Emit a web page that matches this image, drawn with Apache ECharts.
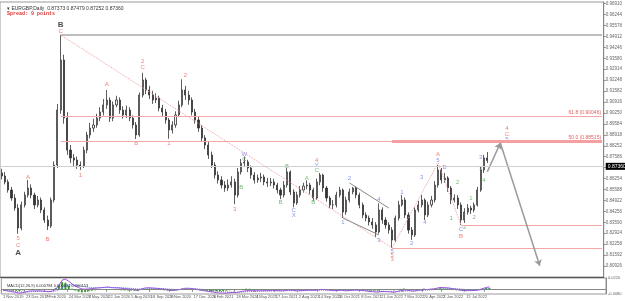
<!DOCTYPE html>
<html><head><meta charset="utf-8">
<script src="https://cdn.jsdelivr.net/npm/echarts@6/dist/echarts.min.js"></script>
<style>html,body{margin:0;padding:0;background:#fff}#c{width:625px;height:301px}</style>
</head><body><div id="c"></div>
<script>
// Weekly OHLC (Nov 2019 - Sep 2022)
const opens = [
.8660,.8641,.8605,.8556,.8507,.8446,.8324,.8465,.8525,.8568,
.8525,.8465,.8495,.8434,.8373,.8337,.8495,.8708,.9043,.9348,
.8994,.8799,.8751,.8739,.8708,.8702,.8799,.8891,.8933,.8952,
.8994,.9031,.9074,.9104,.8994,.9074,.9104,.9043,.9013,.9043,
.8994,.8952,.8891,.9134,.9226,.9165,.9134,.9104,.9116,.9055,
.9031,.8982,.8921,.8952,.9013,.9074,.9165,.9134,.9104,.9031,
.8982,.8933,.8873,.8830,.8769,.8708,.8647,.8617,.8586,.8568,
.8586,.8605,.8525,.8666,.8720,.8726,.8690,.8647,.8617,.8629,
.8635,.8605,.8599,.8605,.8586,.8556,.8525,.8586,.8666,.8544,
.8477,.8525,.8556,.8580,.8586,.8556,.8507,.8605,.8647,.8568,
.8507,.8465,.8465,.8525,.8556,.8422,.8495,.8544,.8568,.8525,
.8465,.8404,.8385,.8361,.8343,.8300,.8434,.8373,.8343,.8312,
.8251,.8385,.8465,.8495,.8404,.8312,.8282,.8434,.8465,.8495,
.8404,.8465,.8495,.8586,.8678,.8617,.8629,.8568,.8495,.8507,
.8465,.8373,.8422,.8446,.8434,.8465,.8556,.8678,.8751];
const closes = [
.8641,.8605,.8556,.8507,.8446,.8324,.8465,.8525,.8568,.8525,
.8465,.8495,.8434,.8373,.8337,.8495,.8708,.9043,.9348,.8994,
.8799,.8751,.8739,.8708,.8702,.8799,.8891,.8933,.8952,.8994,
.9031,.9074,.9104,.8994,.9074,.9104,.9043,.9013,.9043,.8994,
.8952,.8891,.9134,.9226,.9165,.9134,.9104,.9116,.9055,.9031,
.8982,.8921,.8952,.9013,.9074,.9165,.9134,.9104,.9031,.8982,
.8933,.8873,.8830,.8769,.8708,.8647,.8617,.8586,.8568,.8586,
.8605,.8525,.8666,.8720,.8726,.8690,.8647,.8617,.8629,.8635,
.8605,.8599,.8605,.8586,.8556,.8525,.8586,.8666,.8544,.8477,
.8525,.8556,.8580,.8586,.8556,.8507,.8605,.8647,.8568,.8507,
.8465,.8465,.8525,.8556,.8422,.8495,.8544,.8568,.8525,.8465,
.8404,.8385,.8361,.8343,.8300,.8434,.8373,.8343,.8312,.8251,
.8385,.8465,.8495,.8404,.8312,.8282,.8434,.8465,.8495,.8404,
.8465,.8495,.8586,.8678,.8617,.8629,.8568,.8495,.8507,.8465,
.8373,.8422,.8446,.8434,.8465,.8556,.8678,.8751,.8736];
const highs = [
.8685,.8665,.8620,.8575,.8530,.8470,.8485,.8545,.8617,.8590,
.8540,.8520,.8510,.8450,.8400,.8510,.8730,.9080,.9500,.9380,
.9030,.8830,.8775,.8760,.8730,.8820,.8910,.8965,.8990,.9020,
.9060,.9110,.9165,.9120,.9095,.9130,.9120,.9065,.9070,.9060,
.9010,.8970,.9150,.9270,.9240,.9190,.9160,.9145,.9130,.9075,
.9050,.8995,.8975,.9035,.9100,.9230,.9190,.9160,.9120,.9050,
.9000,.8950,.8890,.8850,.8790,.8725,.8670,.8640,.8610,.8620,
.8640,.8625,.8690,.8745,.8760,.8740,.8705,.8665,.8650,.8660,
.8650,.8630,.8630,.8625,.8600,.8570,.8610,.8690,.8675,.8560,
.8545,.8580,.8600,.8615,.8600,.8570,.8625,.8660,.8655,.8580,
.8520,.8495,.8545,.8575,.8565,.8515,.8565,.8574,.8580,.8540,
.8480,.8420,.8400,.8385,.8360,.8475,.8450,.8390,.8360,.8330,
.8400,.8490,.8525,.8510,.8420,.8330,.8450,.8490,.8526,.8505,
.8485,.8520,.8610,.8708,.8690,.8660,.8640,.8580,.8530,.8525,
.8480,.8445,.8470,.8460,.8480,.8575,.8700,.8770,.8787];
const lows = [
.8620,.8590,.8540,.8490,.8430,.8290,.8310,.8450,.8510,.8505,
.8440,.8450,.8415,.8355,.8312,.8325,.8480,.8690,.9020,.8960,
.8770,.8720,.8700,.8685,.8678,.8690,.8780,.8870,.8910,.8935,
.8975,.9010,.9050,.8970,.8975,.9060,.9020,.8990,.8995,.8975,
.8930,.8866,.8880,.9120,.9140,.9110,.9080,.9085,.9035,.9005,
.8960,.8868,.8900,.8935,.9000,.9060,.9105,.9075,.9010,.8960,
.8910,.8850,.8805,.8745,.8690,.8625,.8595,.8565,.8545,.8550,
.8570,.8470,.8510,.8650,.8695,.8665,.8625,.8595,.8600,.8605,
.8585,.8575,.8580,.8565,.8535,.8500,.8510,.8570,.8525,.8450,
.8465,.8510,.8540,.8560,.8530,.8490,.8495,.8585,.8545,.8485,
.8445,.8440,.8450,.8510,.8385,.8405,.8480,.8530,.8505,.8445,
.8385,.8365,.8340,.8320,.8270,.8290,.8350,.8320,.8290,.8203,
.8240,.8370,.8455,.8385,.8290,.8252,.8270,.8420,.8450,.8373,
.8390,.8450,.8480,.8570,.8595,.8600,.8545,.8470,.8480,.8440,
.8343,.8355,.8405,.8410,.8420,.8455,.8545,.8660,.8720];
const futureBars = 35;

const xTickLabels = ["1 Nov 2019","23 Dec 2019","7 Feb 2020","24 Mar 2020","7 May 2020","22 Jun 2020","5 Aug 2020","18 Sep 2020","3 Nov 2020","17 Dec 2020","3 Feb 2021","18 Mar 2021","4 May 2021","17 Jun 2021","2 Aug 2021","14 Sep 2021","26 Oct 2021","8 Dec 2021","21 Jan 2022","7 Mar 2022","20 Apr 2022","2 Jun 2022","15 Jul 2022","8 Sep 2022"];

const macdMain = [
-0.0010,-0.0020,-0.0030,-0.0040,-0.0050,-0.0065,
-0.0055,-0.0040,-0.0025,-0.0020,-0.0022,-0.0020,-0.0025,-0.0032,-0.0038,
-0.0025,0.0005,0.0080,0.0180,0.0200,0.0160,0.0110,0.0070,0.0040,0.0015,
0.0010,0.0015,0.0022,0.0028,0.0034,0.0040,0.0046,0.0052,
0.0040,0.0035,0.0034,0.0028,0.0020,0.0016,0.0010,0.0000,-0.0010,
0.0010,0.0030,0.0038,
0.0035,0.0030,0.0026,0.0018,0.0010,0.0000,-0.0012,
-0.0012,-0.0005,0.0008,0.0025,
0.0028,0.0026,0.0018,0.0008,-0.0004,-0.0016,-0.0026,-0.0036,-0.0046,-0.0056,-0.0062,-0.0064,-0.0062,-0.0056,-0.0050,
-0.0054,-0.0040,-0.0028,-0.0018,
-0.0016,-0.0018,-0.0020,-0.0020,-0.0018,-0.0018,-0.0018,-0.0016,-0.0016,-0.0018,-0.0022,-0.0016,
-0.0004,-0.0010,-0.0020,-0.0020,-0.0016,-0.0012,-0.0008,-0.0008,-0.0012,
-0.0002,0.0006,0.0002,-0.0006,-0.0014,-0.0018,-0.0014,-0.0008,-0.0020,
-0.0018,-0.0012,-0.0006,-0.0006,-0.0012,-0.0020,-0.0028,-0.0034,-0.0040,-0.0046,-0.0034,-0.0034,-0.0036,-0.0040,-0.0048,
-0.0032,-0.0016,-0.0004,-0.0008,-0.0018,-0.0026,-0.0012,-0.0002,0.0008,0.0004,0.0010,0.0016,0.0028,0.0042,
0.0040,0.0038,0.0030,0.0016,0.0008,-0.0002,-0.0016,-0.0018,-0.0016,-0.0016,-0.0012,0.0002,0.0022,0.0042,0.0054];
const macdSignal = [
-0.0005,-0.0010,-0.0016,-0.0022,-0.0030,-0.0040,
-0.0045,-0.0044,-0.0040,-0.0036,-0.0033,-0.0030,-0.0029,-0.0030,-0.0032,
-0.0031,-0.0024,-0.0003,0.0034,0.0067,0.0086,0.0091,0.0087,0.0078,0.0065,
0.0054,0.0046,0.0041,0.0038,0.0037,0.0038,0.0040,0.0042,
0.0042,0.0041,0.0040,0.0038,0.0034,0.0030,0.0026,0.0021,0.0015,
0.0014,0.0017,0.0021,
0.0024,0.0025,0.0025,0.0024,0.0021,0.0017,0.0011,
0.0006,0.0004,0.0005,0.0009,
0.0013,0.0016,0.0016,0.0015,0.0011,0.0006,0.0000,-0.0007,-0.0015,-0.0023,-0.0031,-0.0038,-0.0043,-0.0046,-0.0047,
-0.0048,-0.0047,-0.0043,-0.0038,
-0.0034,-0.0031,-0.0029,-0.0027,-0.0025,-0.0024,-0.0023,-0.0021,-0.0020,-0.0019,-0.0020,-0.0019,
-0.0016,-0.0015,-0.0016,-0.0017,-0.0017,-0.0016,-0.0014,-0.0013,-0.0013,
-0.0011,-0.0008,-0.0006,-0.0006,-0.0008,-0.0010,-0.0011,-0.0010,-0.0012,
-0.0013,-0.0013,-0.0012,-0.0011,-0.0011,-0.0013,-0.0016,-0.0019,-0.0023,-0.0028,-0.0029,-0.0030,-0.0031,-0.0033,-0.0036,
-0.0035,-0.0031,-0.0026,-0.0022,-0.0021,-0.0022,-0.0020,-0.0016,-0.0011,-0.0008,-0.0004,0.0000,0.0006,0.0013,
0.0018,0.0022,0.0024,0.0022,0.0019,0.0015,0.0009,0.0004,0.0000,-0.0003,-0.0005,-0.0004,0.0001,0.0009,0.0018];
const macdHist = [
-0.0005,-0.0010,-0.0014,-0.0018,-0.0020,-0.0025,
-0.0010,0.0004,0.0015,0.0016,0.0011,0.0010,0.0004,-0.0002,-0.0006,
0.0006,0.0029,0.0083,0.0146,0.0133,0.0074,0.0019,-0.0017,-0.0038,-0.0050,
-0.0044,-0.0031,-0.0019,-0.0010,-0.0003,0.0002,0.0006,0.0010,
-0.0002,-0.0006,-0.0006,-0.0010,-0.0014,-0.0014,-0.0016,-0.0021,-0.0025,
-0.0004,0.0013,0.0017,
0.0011,0.0005,0.0001,-0.0006,-0.0011,-0.0017,-0.0023,
-0.0018,-0.0009,0.0003,0.0016,
0.0015,0.0010,0.0002,-0.0007,-0.0015,-0.0022,-0.0026,-0.0029,-0.0031,-0.0033,-0.0031,-0.0026,-0.0019,-0.0010,-0.0003,
-0.0006,0.0007,0.0015,0.0020,
0.0018,0.0013,0.0009,0.0007,0.0007,0.0006,0.0005,0.0005,0.0004,0.0001,-0.0002,0.0003,
0.0012,0.0005,-0.0004,-0.0003,0.0001,0.0004,0.0006,0.0005,0.0001,
0.0009,0.0014,0.0008,0.0000,-0.0006,-0.0008,-0.0003,0.0002,-0.0008,
-0.0005,0.0001,0.0006,0.0005,-0.0001,-0.0007,-0.0012,-0.0015,-0.0017,-0.0018,-0.0005,-0.0004,-0.0005,-0.0007,-0.0012,
0.0003,0.0015,0.0022,0.0014,0.0003,-0.0004,0.0008,0.0014,0.0019,0.0012,0.0014,0.0016,0.0022,0.0029,
0.0022,0.0016,0.0006,-0.0006,-0.0011,-0.0017,-0.0025,-0.0022,-0.0016,-0.0013,-0.0007,0.0006,0.0021,0.0033,0.0036];

// Wave labels: [bar, price, text, colour key]
const waveLabels = [
[5,.8263,'5','r'],[5,.8221,'C','r'],[5,.8172,'A','k'],
[8,.8632,'A','r'],[14,.8257,'B','r'],
[18,.9561,'B','k'],[18,.9522,'C','r'],
[24,.8647,'1','r'],[32,.9201,'A','r'],[41,.8842,'B','r'],
[43,.9341,'2','r'],[43,.9305,'C','r'],[51,.8842,'1','r'],[56,.9256,'2','r'],
[71,.8440,'3','r'],
[74,.8775,'W','b'],[74,.8745,'C','g'],[73,.8574,'B','g'],
[85,.8483,'B','g'],[87,.8702,'B','g'],[89,.8434,'C','b'],[89,.8404,'X','b'],
[93,.8629,'A','g'],[95,.8483,'B','g'],
[96,.8739,'4','r'],[96,.8708,'Y','b'],[96,.8678,'C','g'],
[104,.8361,'1','b'],[106,.8629,'2','b'],[115,.8251,'3','b'],[115,.8501,'4','b'],
[119,.8184,'5','b'],[119,.8160,'5','r'],[119,.8136,'3','r'],
[122,.8541,'1','b'],[125,.8233,'2','b'],[128,.8635,'3','b'],[129,.8361,'4','b'],
[133,.8775,'A','r'],[133,.8739,'5','b'],[135,.8696,'B','b'],
[140,.8318,'C','b'],[140,.8276,'B','r'],
[137,.8385,'1','g'],[139,.8605,'2','g'],[141,.8331,'3','g'],[143,.8507,'1','g'],
[144,.8391,'2','g'],[146,.8690,'3','g'],[147,.8617,'4','g'],[146,.8757,'3','b'],
[154,.8934,'4','r'],[154,.8897,'C','r'],[154,.8866,'5','b']];

const bHigh = 0.9500, lowThree = 0.8203, fib618 = 0.90046, fib50 = 0.88515, lowB = 0.8343, lastPrice = 0.8736;

const colorMap = {r:'#e8605a', b:'#6a78e8', g:'#58a858', k:'#222'};
const N = closes.length, total = N + futureBars, last = total - 1;
const cats = Array.from({length: total}, (_, i) => String(i));
const candles = closes.map((c, i) => [opens[i], c, lows[i], highs[i]]);
const labelAt = {};
xTickLabels.forEach((t, k) => { labelAt[Math.round(0.43 + k * 21 / 3.2935)] = t; });

const red = '#f2a6a6';
function hline(x0, y, style, label) {
  const a = {coord: [x0, y], symbol: 'none'}, b = {coord: [last, y], symbol: 'none'};
  a.lineStyle = style;
  if (label) a.label = label;
  return [a, b];
}
function seg(x0, y0, x1, y1, style, arrow) {
  const a = {coord: [x0, y0], symbol: 'none', lineStyle: style};
  const b = {coord: [x1, y1], symbol: arrow ? 'arrow' : 'none'};
  return [a, b];
}
const fibLabel = t => ({show: true, position: 'insideEndTop', formatter: t, color: '#e06060', fontSize: 5, distance: 1, fontFamily: 'Liberation Sans'});

const markLines = [
  hline(18, bHigh, {color: '#a8a8a8', width: 1.5, type: 'solid'}),
  hline(18, fib618, {color: red, width: 1, type: 'solid'}, fibLabel('61.8 (0.90046)')),
  hline(18, fib50, {color: red, width: 1, type: 'solid'}),
  hline(119, fib50, {color: '#f4a0a0', width: 3, type: 'solid'}, fibLabel('50.0 (0.88515)')),
  hline(140, lowB, {color: red, width: 1, type: 'solid'}),
  hline(119, lowThree, {color: red, width: 1, type: 'solid'}),
  seg(18, bHigh, 119, lowThree, {color: '#f0a0a0', width: 1, type: 'dotted'}),
  seg(119, lowThree, 133, .8720, {color: '#f0a0a0', width: 1, type: 'dotted'}),
  seg(133, .8720, 140, lowB, {color: '#f0a0a0', width: 1, type: 'dotted'}),
  seg(106, .8599, 118, .8446, {color: '#888', width: 1, type: 'solid'}),
  seg(104, .8385, 115, .8282, {color: '#888', width: 1, type: 'solid'}),
  seg(148, .8666, 152, .8842, {color: '#9a9a9a', width: 1.5, type: 'solid'}, true),
  seg(152, .8842, 164, .8094, {color: '#9a9a9a', width: 1.5, type: 'solid'}, true),
  {yAxis: lastPrice, symbol: 'none', lineStyle: {color: '#d0d0d0', width: 1, type: 'solid'},
   label: {show: true, position: 'end', formatter: '0.87360', color: '#fff', backgroundColor: '#000', fontSize: 5, padding: [1, 2], distance: 2}}
];

const chart = echarts.init(document.getElementById('c'), null, {renderer: 'canvas'});
const tickShow = (i) => labelAt[i] !== undefined;
chart.setOption({
  animation: false,
  backgroundColor: '#fff',
  textStyle: {fontFamily: 'Liberation Sans'},
  title: [
    {text: '\u25BE EURGBP,Daily  0.87373 0.87479 0.87252 0.87360', left: 2, top: 1,
     textStyle: {fontSize: 5, color: '#333', fontWeight: 'normal'}},
    {text: 'Spread: 9 points', left: 2, top: 6,
     textStyle: {fontSize: 5, color: '#e03030', fontWeight: 'bold', fontFamily: 'Liberation Mono'}},
    {text: 'MACD(12,26,9) 0.000784 0.000631 0.000153', left: 2, top: 279,
     textStyle: {fontSize: 4, color: '#333', fontWeight: 'normal'}}
  ],
  grid: [
    {left: 0, right: 19, top: 2, bottom: 24, show: true, borderColor: '#999', borderWidth: 1},
    {left: 0, right: 19, top: 278, bottom: 7, show: true, borderColor: '#999', borderWidth: 1}
  ],
  xAxis: [
    {type: 'category', data: cats, gridIndex: 0, axisLabel: {show: false}, axisTick: {show: false},
     axisLine: {lineStyle: {color: '#555'}}, splitLine: {show: false}},
    {type: 'category', data: cats, gridIndex: 1,
     axisLine: {lineStyle: {color: '#888'}},
     axisTick: {show: true, interval: tickShow, length: 2, lineStyle: {color: '#888'}},
     axisLabel: {show: true, interval: tickShow, formatter: (v, i) => labelAt[i] || '', align: 'left',
                 fontSize: 4, color: '#555', margin: 1, showMinLabel: true, hideOverlap: false}}
  ],
  yAxis: [
    {type: 'value', gridIndex: 0, position: 'right', min: 0.8026, max: 0.9701, interval: 0.00666,
     axisLine: {show: true, lineStyle: {color: '#888'}}, axisTick: {show: true, length: 2, lineStyle: {color: '#888'}},
     axisLabel: {fontSize: 4.5, color: '#666', margin: 2, formatter: v => v.toFixed(5), showMaxLabel: false, showMinLabel: false},
     splitLine: {show: false}},
    {type: 'value', gridIndex: 1, position: 'right', min: -0.008, max: 0.022, interval: 0.03,
     axisLine: {show: true, lineStyle: {color: '#888'}}, axisTick: {show: false},
     axisLabel: {fontSize: 4, color: '#666', margin: 2, formatter: v => v.toFixed(4)},
     splitLine: {show: false}}
  ],
  series: [
    {type: 'candlestick', xAxisIndex: 0, yAxisIndex: 0, data: candles, barWidth: 1.6,
     itemStyle: {color: '#f4f4f4', color0: '#333333', borderColor: '#333333', borderColor0: '#333333', borderWidth: 0.8},
     markLine: {silent: true, symbol: ['none', 'none'], symbolSize: 6, label: {show: false}, data: markLines}},
    {type: 'scatter', xAxisIndex: 0, yAxisIndex: 0, symbol: 'circle', symbolSize: 1, silent: true,
     itemStyle: {color: 'rgba(0,0,0,0)'},
     data: waveLabels.map(([x, y, t, c]) => ({value: [x, y],
       label: {show: true, position: 'inside', formatter: t, color: colorMap[c],
               fontSize: c === 'k' ? 8 : 6, fontWeight: c === 'k' ? 'bold' : 'normal'}}))},
    {type: 'bar', xAxisIndex: 1, yAxisIndex: 1, data: macdHist, barWidth: 2, itemStyle: {color: '#3c9a3c'},
     markLine: {silent: true, symbol: ['none', 'none'], label: {show: false},
                data: [{yAxis: 0, lineStyle: {color: '#888', type: 'dotted', width: 1}}]}},
    {type: 'line', xAxisIndex: 1, yAxisIndex: 1, data: macdMain, symbol: 'none',
     lineStyle: {color: '#a050e0', width: 1}},
    {type: 'line', xAxisIndex: 1, yAxisIndex: 1, data: macdSignal, symbol: 'none',
     lineStyle: {color: '#5070ff', width: 1, type: 'dotted'}}
  ]
});
</script>
</body></html>
